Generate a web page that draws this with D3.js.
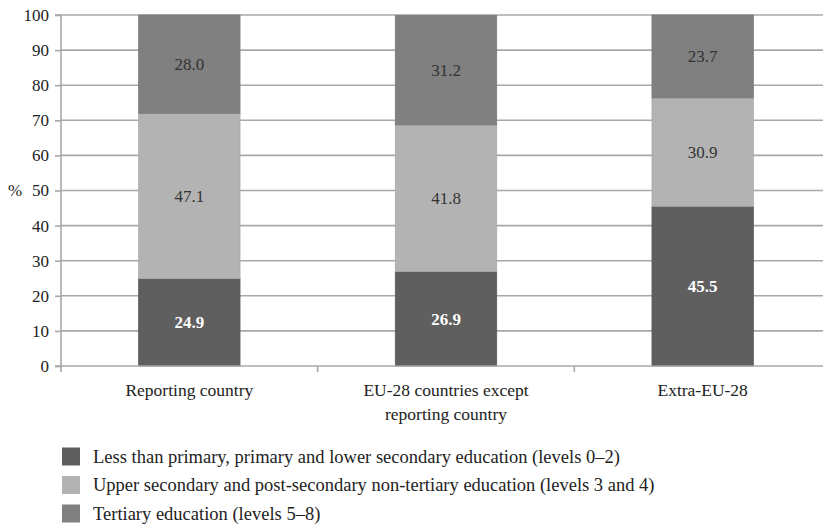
<!DOCTYPE html>
<html><head><meta charset="utf-8">
<script src="https://cdn.jsdelivr.net/npm/d3@7"></script>
<style>
body{margin:0;background:#fff;}
svg text{font-family:"Liberation Serif","DejaVu Serif",serif;}
</style></head>
<body><svg id="c" width="823" height="529"></svg>
<script>
const categories = [["Reporting country"], ["EU-28 countries except", "reporting country"], ["Extra-EU-28"]];
const seriesNames = [
  "Less than primary, primary and lower secondary education (levels 0–2)",
  "Upper secondary and post-secondary non-tertiary education (levels 3 and 4)",
  "Tertiary education (levels 5–8)"
];
const lowerValues = [24.9, 26.9, 45.5];
const upperValues = [47.1, 41.8, 30.9];
const tertiaryValues = [28.0, 31.2, 23.7];
const yTicks = [0,10,20,30,40,50,60,70,80,90,100];
const colors = ["#5f5f5f", "#b3b3b3", "#808080"];
const labelColors = ["#ffffff", "#333333", "#333333"];
const labelWeights = ["bold", "normal", "normal"];

const series = [lowerValues, upperValues, tertiaryValues];
const svg = d3.select("#c");
const mLeft = 61, mRight = 831, mTop = 15, mBottom = 366;
const x = d3.scaleBand().domain(d3.range(categories.length)).range([mLeft, mRight]).padding(0);
const y = d3.scaleLinear().domain([0, 100]).range([mBottom, mTop]);
const barW = x.bandwidth() * 0.395;

// gridlines
svg.append("g").selectAll("line").data(yTicks.filter(d => d > 0)).join("line")
  .attr("x1", mLeft).attr("x2", mRight).attr("y1", d => y(d)).attr("y2", d => y(d))
  .attr("stroke", "#a8a8a8").attr("stroke-width", 1.6);

// bars
const stackData = categories.map((c, i) => {
  let acc = 0;
  return series.map((s, k) => { const y0 = acc; acc += s[i]; return {i, k, y0, y1: acc, v: s[i]}; });
}).flat();
svg.append("g").selectAll("rect").data(stackData).join("rect")
  .attr("x", d => x(d.i) + (x.bandwidth() - barW) / 2)
  .attr("width", barW)
  .attr("y", d => y(Math.min(d.y1, 100)))
  .attr("height", d => y(d.y0) - y(Math.min(d.y1, 100)))
  .attr("fill", d => colors[d.k])
  .attr("stroke", d => d3.color(colors[d.k]).darker(0.15))
  .attr("stroke-width", 0.8);

svg.append("g").selectAll("text").data(stackData).join("text")
  .attr("x", d => x(d.i) + x.bandwidth() / 2)
  .attr("y", d => y((d.y0 + Math.min(d.y1, 100)) / 2))
  .attr("dy", "0.35em")
  .attr("text-anchor", "middle")
  .attr("font-size", 17)
  .attr("fill", d => labelColors[d.k])
  .attr("font-weight", d => labelWeights[d.k])
  .text(d => d.v.toFixed(1));

// y axis
const ya = svg.append("g").attr("transform", `translate(${mLeft},0)`)
  .call(d3.axisLeft(y).tickValues(yTicks).tickSize(6).tickPadding(6));
ya.select(".domain").attr("stroke", "#a8a8a8").attr("stroke-width", 1.6).attr("d", `M-6,${mTop}H0V${mBottom}H-6`);
ya.selectAll(".tick line").attr("stroke", "#a8a8a8").attr("stroke-width", 1.6);
ya.selectAll(".tick text").attr("font-size", 17).attr("fill", "#222").attr("font-family", "Liberation Serif");

// x axis
svg.append("line").attr("x1", mLeft).attr("x2", mRight).attr("y1", mBottom).attr("y2", mBottom)
  .attr("stroke", "#a8a8a8").attr("stroke-width", 1.6);
svg.append("g").selectAll("line").data(d3.range(categories.length + 1)).join("line")
  .attr("x1", d => mLeft + d * x.step()).attr("x2", d => mLeft + d * x.step())
  .attr("y1", mBottom).attr("y2", mBottom + 6)
  .attr("stroke", "#a8a8a8").attr("stroke-width", 1.6);
const xl = svg.append("g").selectAll("text").data(categories).join("text")
  .attr("x", (d, i) => x(i) + x.bandwidth() / 2)
  .attr("y", 396)
  .attr("text-anchor", "middle").attr("font-size", 17.5).attr("fill", "#222");
xl.selectAll("tspan").data(d => d).join("tspan")
  .attr("x", function(){ return this.parentNode.getAttribute("x"); })
  .attr("dy", (d, j) => j === 0 ? 0 : 23.5).text(d => d);

svg.append("text").attr("x", 8).attr("y", y(50)).attr("dy", "0.35em")
  .attr("font-size", 17).attr("fill", "#222").text("%");

// legend
const lg = svg.append("g").selectAll("g").data(seriesNames).join("g")
  .attr("transform", (d, i) => `translate(62,${447.5 + i * 28.5})`);
lg.append("rect").attr("width", 18).attr("height", 18).attr("fill", (d, i) => colors[i]);
lg.append("text").attr("x", 31).attr("y", 9).attr("dy", "0.35em")
  .attr("font-size", 18.5).attr("fill", "#222").text(d => d);
</script></body></html>
